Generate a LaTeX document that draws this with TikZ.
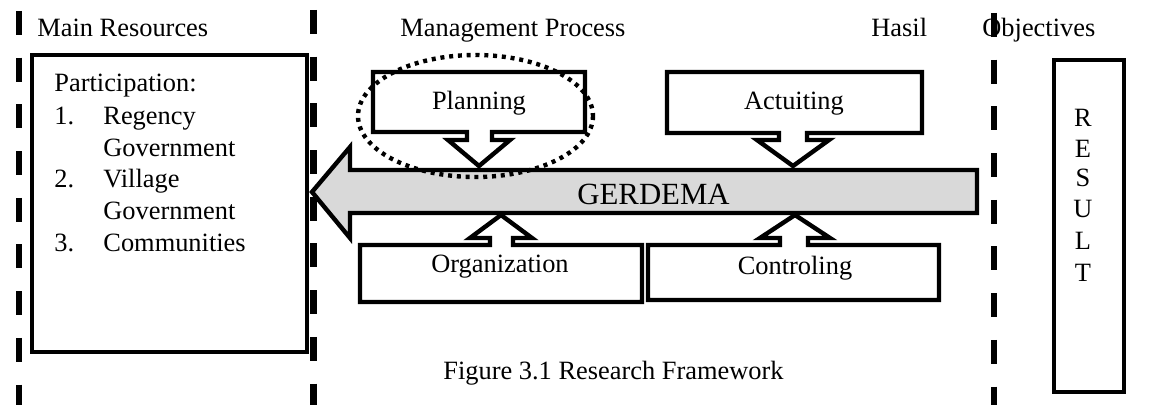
\documentclass[tikz,border=0pt]{standalone}
\usepackage{fontspec}
\setmainfont{Liberation Serif}
\begin{document}
\begin{tikzpicture}[x=0.5pt,y=-0.5pt,
  divider/.style={line width=3.4pt, dash pattern=on 12pt off 11.35pt},
  frame/.style={draw, line width=2.2pt, line join=miter},
  ring/.style={line width=2.2pt, dash pattern=on 2pt off 2.4pt},
  lbl/.style={font=\fontsize{13.2}{16}\selectfont, inner sep=0pt, anchor=base west},
  clbl/.style={font=\fontsize{13.2}{16}\selectfont, inner sep=0pt, anchor=base},
  big/.style={font=\fontsize{15.4}{18}\selectfont, inner sep=0pt, anchor=base west}]
\useasboundingbox (0,0) rectangle (1162,405);

% column dividers
\draw[divider] (19,11) -- (19,405);
\draw[divider] (313.5,10) -- (313.5,405);
\draw[divider] (994,13) -- (994,405);

% column headings
\node[lbl] (hres) at (37,37) {Main Resources};
\node[lbl] (hproc) at (400,37) {Management Process};
\node[lbl] (hhasil) at (871,37) {Hasil};
\node[lbl] (hobj) at (982,37) {Objectives};

% main resources box
\draw[frame] (32,55) rectangle (307,352);
\coordinate (mrE) at (312,192);
\node[lbl] (part) at (54,92) {Participation:};
\node[lbl] (n1) at (54,125) {1.};
\node[lbl] (t1) at (103,125) {Regency};
\node[lbl] (t1b) at (103,157) {Government};
\node[lbl] (n2) at (54,188) {2.};
\node[lbl] (t2) at (103,188) {Village};
\node[lbl] (t2b) at (103,220) {Government};
\node[lbl] (n3) at (54,252) {3.};
\node[lbl] (t3) at (103,252) {Communities};

% GERDEMA arrow pointing to the resources box
\draw[frame, fill=black!15] (mrE) -- (350,147) -- (350,170) -- (977,170)
  -- (977,213) -- (350,213) -- (350,238) -- cycle;
\node[big] (gerdema) at (577,205) {GERDEMA};

% planning callout
\draw[frame, fill=white] (373,72) -- (585,72) -- (585,132) -- (492,132)
  -- (492,140) -- (510,140) -- (479,166) -- (448,140) -- (467,140)
  -- (467,132) -- (373,132) -- cycle;
\node[clbl] (plan) at (479,110) {Planning};

% actuiting callout
\draw[frame, fill=white] (667,72) -- (922,72) -- (922,133) -- (807,133)
  -- (807,140) -- (829,140) -- (793,166) -- (757,140) -- (779,140)
  -- (779,133) -- (667,133) -- cycle;
\node[clbl] (act) at (794,110) {Actuiting};

% organization callout
\draw[frame, fill=white] (360,245) -- (490,245) -- (490,238) -- (470,238)
  -- (501,215) -- (532,238) -- (513,238) -- (513,245) -- (642,245)
  -- (642,302) -- (360,302) -- cycle;
\node[clbl] (org) at (500,273) {Organization};

% controling callout
\draw[frame, fill=white] (648,245) -- (780,245) -- (780,238) -- (760,238)
  -- (795,215) -- (830,238) -- (808,238) -- (808,245) -- (939,245)
  -- (939,300) -- (648,300) -- cycle;
\node[clbl] (ctrl) at (795,275) {Controling};

% highlight around planning
\draw[ring] (475.5,116) ellipse [x radius=117.5, y radius=61];

% result column
\draw[frame] (1054,60) rectangle (1124,392);
\foreach \ch/\yy [count=\i] in {R/127,E/158,S/187,U/218,L/250,T/282}
  \node[clbl] (res\i) at (1083,\yy) {\ch};

% caption
\node[lbl] (cap) at (443,380) {Figure 3.1 Research Framework};
\end{tikzpicture}
\end{document}
